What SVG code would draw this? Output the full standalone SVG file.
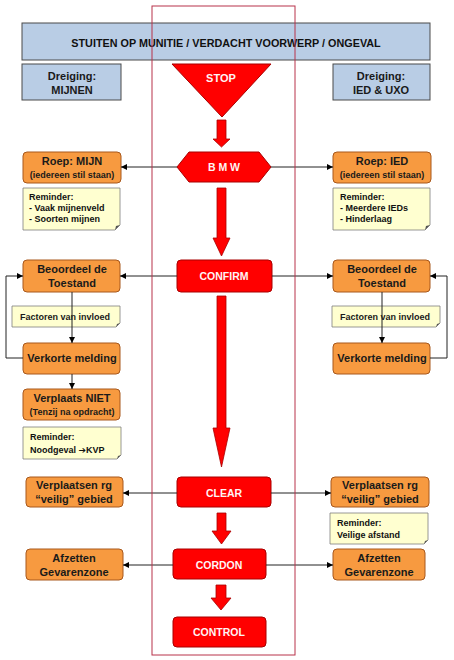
<svg xmlns="http://www.w3.org/2000/svg" width="454" height="660" viewBox="0 0 454 660">
<defs>
<marker id="ah" markerWidth="6" markerHeight="6" refX="6" refY="3" orient="auto" markerUnits="userSpaceOnUse">
<path d="M0,0 L6,3 L0,6 Z" fill="#000"/>
</marker>
<style>
text{font-family:"Liberation Sans",Arial,sans-serif;font-weight:bold;text-anchor:middle}
.blue{fill:#b9cde5;stroke:#4a4a4a;stroke-width:1}
.org{fill:#f79a40;stroke:#a8581c;stroke-width:1}
.red{fill:#ff0000;stroke:#a80000;stroke-width:1}
.note{fill:#ffffd0;stroke:#7f7f7f;stroke-width:0.8}
.fold{fill:#555}
.t11{font-size:11px;fill:#1a1a1a}
.t9{font-size:9px;fill:#1a1a1a}
.n9{font-size:9px;fill:#111;text-anchor:start}
.w{font-size:10.5px;fill:#fff4f4}
.con{stroke:#222;stroke-width:1;fill:none}
.blk{fill:#ff0000;stroke:#a80000;stroke-width:0.8}
</style>
</defs>
<rect width="454" height="660" fill="#fff"/>

<g id="title">
<rect class="blue" x="22" y="23" width="408" height="37"/>
<text x="226" y="47" style="font-size:10.8px;fill:#111">STUITEN OP MUNITIE / VERDACHT VOORWERP / ONGEVAL</text>
</g>
<g id="dreiging-mijnen">
<rect class="blue" x="22" y="64" width="99" height="36"/>
<text class="t11" x="72" y="80">Dreiging:</text>
<text class="t11" x="72" y="94">MIJNEN</text>
</g>
<g id="dreiging-ied">
<rect class="blue" x="333" y="64" width="97" height="36"/>
<text class="t11" x="381" y="80">Dreiging:</text>
<text class="t11" x="381" y="94">IED &amp; UXO</text>
</g>

<g id="stop">
<path class="red" d="M172,64 L271,64 L222,117 Z"/>
<text class="w" x="221" y="82" style="font-size:11px">STOP</text>
</g>
<g id="bmw">
<path class="red" d="M177,167 L189,152 L259,152 L271,167 L259,182 L189,182 Z"/>
<text class="w" x="224" y="171">B M W</text>
</g>
<g id="confirm">
<rect class="red" x="177" y="260" width="95" height="32" rx="4"/>
<text class="w" x="224" y="280">CONFIRM</text>
</g>
<g id="clear">
<rect class="red" x="177" y="477" width="94" height="30" rx="4"/>
<text class="w" x="224" y="497">CLEAR</text>
</g>
<g id="cordon">
<rect class="red" x="173" y="549" width="93" height="30" rx="4"/>
<text class="w" x="219" y="569">CORDON</text>
</g>
<g id="control">
<rect class="red" x="173" y="617" width="93" height="30" rx="4"/>
<text class="w" x="219" y="636">CONTROL</text>
</g>

<g id="roep-mijn">
<rect class="org" x="23" y="152" width="98" height="31" rx="4"/>
<text class="t11" x="72" y="165">Roep: MIJN</text>
<text class="t9" x="72" y="178">(iedereen stil staan)</text>
</g>
<g id="roep-ied">
<rect class="org" x="333" y="152" width="98" height="31" rx="4"/>
<text class="t11" x="382" y="165">Roep: IED</text>
<text class="t9" x="382" y="178">(iedereen stil staan)</text>
</g>
<g id="reminder-mijn">
<path class="note" d="M23,188 L120,188 L120,225 L115,230 L23,230 Z"/>
<path class="fold" d="M120,225 L115,230 L116,226 Z"/>
<text class="n9" x="29" y="200">Reminder:</text>
<text class="n9" x="29" y="211">- Vaak mijnenveld</text>
<text class="n9" x="29" y="222">- Soorten mijnen</text>
</g>
<g id="reminder-ied">
<path class="note" d="M333,188 L430,188 L430,225 L425,230 L333,230 Z"/>
<path class="fold" d="M430,225 L425,230 L426,226 Z"/>
<text class="n9" x="340" y="200">Reminder:</text>
<text class="n9" x="340" y="211">- Meerdere IEDs</text>
<text class="n9" x="340" y="222">- Hinderlaag</text>
</g>

<g id="beoordeel-l">
<rect class="org" x="23" y="260" width="97" height="32" rx="4"/>
<text class="t11" x="72" y="273">Beoordeel de</text>
<text class="t11" x="72" y="287">Toestand</text>
</g>
<g id="factoren-l">
<path class="note" d="M12,306 L120,306 L120,323 L116,327 L12,327 Z"/>
<path class="fold" d="M120,323 L116,327 L117,324 Z"/>
<text class="t9" x="65" y="320">Factoren van invloed</text>
</g>
<g id="verkorte-l">
<rect class="org" x="23" y="343" width="97" height="31" rx="4"/>
<text class="t11" x="72" y="362">Verkorte melding</text>
</g>
<g id="beoordeel-r">
<rect class="org" x="333" y="260" width="97" height="32" rx="4"/>
<text class="t11" x="382" y="273">Beoordeel de</text>
<text class="t11" x="382" y="287">Toestand</text>
</g>
<g id="factoren-r">
<path class="note" d="M332,306 L440,306 L440,323 L436,327 L332,327 Z"/>
<path class="fold" d="M440,323 L436,327 L437,324 Z"/>
<text class="t9" x="385" y="320">Factoren van invloed</text>
</g>
<g id="verkorte-r">
<rect class="org" x="333" y="343" width="97" height="31" rx="4"/>
<text class="t11" x="382" y="362">Verkorte melding</text>
</g>

<g id="verplaats-niet">
<rect class="org" x="23" y="389" width="97" height="31" rx="4"/>
<text class="t11" x="72" y="402">Verplaats NIET</text>
<text class="t9" x="72" y="415">(Tenzij na opdracht)</text>
</g>
<g id="reminder-kvp">
<path class="note" d="M23,427 L121,427 L121,455 L117,459 L23,459 Z"/>
<path class="fold" d="M121,455 L117,459 L118,456 Z"/>
<text class="n9" x="30" y="440">Reminder:</text>
<text class="n9" x="30" y="453">Noodgeval <tspan style="font-family:'DejaVu Sans',sans-serif;font-size:9px">➔</tspan>KVP</text>
</g>

<g id="verplaatsen-l">
<rect class="org" x="26" y="477" width="97" height="30" rx="4"/>
<text class="t11" x="74" y="489">Verplaatsen rg</text>
<text class="t11" x="74" y="503">“veilig” gebied</text>
</g>
<g id="verplaatsen-r">
<rect class="org" x="331" y="477" width="98" height="30" rx="4"/>
<text class="t11" x="380" y="489">Verplaatsen rg</text>
<text class="t11" x="380" y="503">“veilig” gebied</text>
</g>
<g id="reminder-afstand">
<path class="note" d="M330,513 L428,513 L428,540 L424,544 L330,544 Z"/>
<path class="fold" d="M428,540 L424,544 L425,541 Z"/>
<text class="n9" x="337" y="526">Reminder:</text>
<text class="n9" x="337" y="538">Veilige afstand</text>
</g>
<g id="afzetten-l">
<rect class="org" x="26" y="549" width="97" height="31" rx="4"/>
<text class="t11" x="74" y="562">Afzetten</text>
<text class="t11" x="74" y="576">Gevarenzone</text>
</g>
<g id="afzetten-r">
<rect class="org" x="333" y="549" width="92" height="31" rx="4"/>
<text class="t11" x="379" y="562">Afzetten</text>
<text class="t11" x="379" y="576">Gevarenzone</text>
</g>

<g id="connectors">
<path class="blk" d="M217,120 L226,120 L226,139 L230,139 L221.5,147 L213,139 L217,139 Z"/>
<path class="blk" d="M217,188 L226,188 L226,238 L230,238 L221.5,256 L213,238 L217,238 Z"/>
<path class="blk" d="M217,296 L226,296 L226,428 L230,428 L221.5,467 L213,428 L217,428 Z"/>
<path class="blk" d="M217,513 L226,513 L226,531 L231,531 L221.5,544 L212,531 L217,531 Z"/>
<path class="blk" d="M216,585 L226,585 L226,598 L231,598 L221,610 L211,598 L216,598 Z"/>

<line class="con" x1="177" y1="167" x2="121" y2="167" marker-end="url(#ah)"/>
<line class="con" x1="271" y1="167" x2="333" y2="167" marker-end="url(#ah)"/>
<line class="con" x1="177" y1="276" x2="120" y2="276" marker-end="url(#ah)"/>
<line class="con" x1="272" y1="276" x2="333" y2="276" marker-end="url(#ah)"/>
<line class="con" x1="72" y1="292" x2="72" y2="343" marker-end="url(#ah)"/>
<line class="con" x1="382" y1="292" x2="382" y2="343" marker-end="url(#ah)"/>
<polyline class="con" points="23,358 6,358 6,276 23,276" marker-end="url(#ah)"/>
<polyline class="con" points="430,358 447,358 447,276 430,276" marker-end="url(#ah)"/>
<line class="con" x1="72" y1="374" x2="72" y2="389" marker-end="url(#ah)"/>
<line class="con" x1="177" y1="493" x2="123" y2="493" marker-end="url(#ah)"/>
<line class="con" x1="271" y1="493" x2="331" y2="493" marker-end="url(#ah)"/>
<line class="con" x1="173" y1="565" x2="123" y2="565" marker-end="url(#ah)"/>
<line class="con" x1="266" y1="565" x2="333" y2="565" marker-end="url(#ah)"/>
</g>

<g id="frame">
<rect x="152" y="6" width="143" height="649" fill="none" stroke="#b8324a" stroke-width="1"/>
</g>
</svg>
